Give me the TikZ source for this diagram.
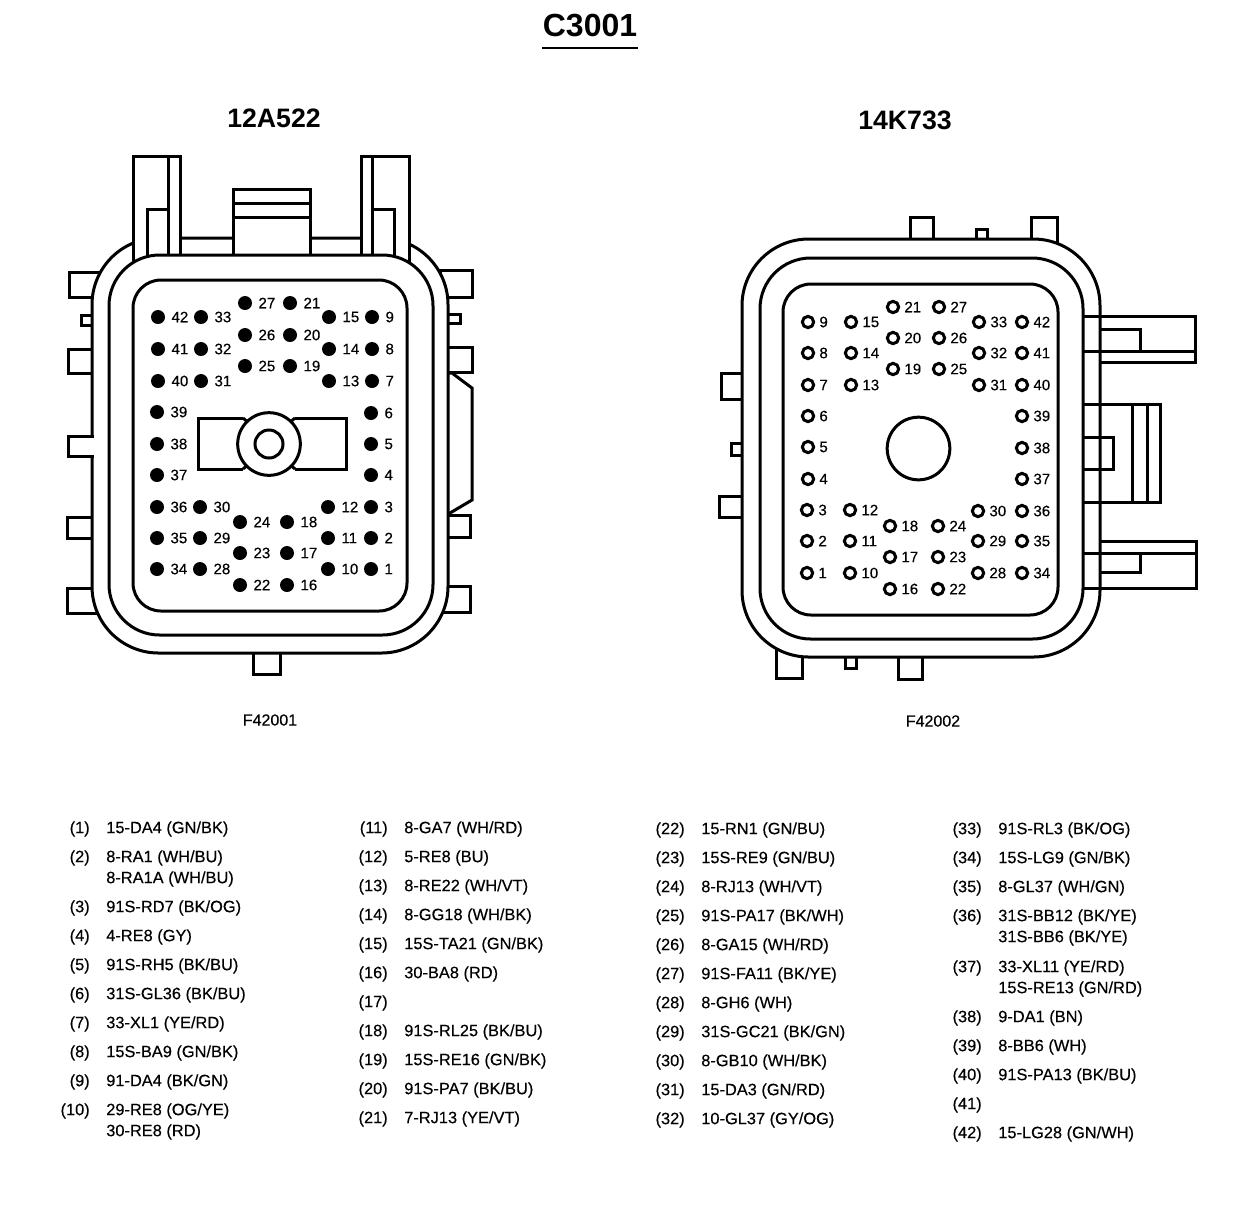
\documentclass[tikz,border=0pt]{standalone}
\usepackage{fontspec}
\setmainfont{Liberation Sans}
\newfontfamily\scanfont{Liberation Sans}[FakeBold=0.3]
\usetikzlibrary{positioning}
\tikzset{wall/.style={draw, line width=2.25pt, line join=miter}}
\tikzset{outerwall/.style={wall, fill=white, rounded corners=50pt}}
\tikzset{midwall/.style={wall, fill=white, rounded corners=38pt}}
\tikzset{innerwall/.style={wall, fill=white, rounded corners=21pt}}
\tikzset{pinfull/.style={circle, fill=black, inner sep=0pt, minimum size=10.5pt}}
\tikzset{pinopen/.style={circle, draw, line width=2.25pt, fill=white, inner sep=0pt, minimum size=8.5pt}}
\tikzset{pinlab/.style={inner sep=0pt, font=\fontsize{11.3}{13}\scanfont}}
\tikzset{wirenum/.style={anchor=north east, inner sep=0pt, font=\fontsize{12.3}{15.75}\scanfont}}
\tikzset{wiretxt/.style={anchor=north west, inner sep=0pt, align=left, font=\fontsize{12.3}{15.75}\scanfont}}
\tikzset{heading/.style={inner sep=0pt, font=\fontsize{20}{24}\selectfont\bfseries}}
\tikzset{partno/.style={inner sep=0pt, font=\fontsize{12}{14}\scanfont}}

\begin{document}
\begin{tikzpicture}[x=0.75pt, y=-0.75pt]
	\fill[white] (0,0) rectangle (1248,1208);
	\node[heading, font=\fontsize{24}{28}\selectfont\bfseries] (title) at (590,26) {C3001};
	\draw[line width=1.5pt] (542,47.5) -- (638,47.5);
	\node[heading] (leftname) at (274,118) {12A522};
	\node[heading] (rightname) at (905,120) {14K733};
	\node[partno] (leftpart) at (270,720) {F42001};
	\node[partno] (rightpart) at (933,721) {F42002};

	% left connector
	\foreach \xa/\ya/\xb/\yb in {69/272/110/297, 81/315/100/325, 68/349/100/373, 67/517/100/538, 67/588/110/613,
		440/270/472/297, 440/314/460/323, 440/347/472/372, 440/515/470/537, 440/586/470/612, 253/640/280/674}
		\draw[wall, fill=white] (\xa,\ya) rectangle (\xb,\yb);
	\draw[wall, fill=white] (440,373) -- (452,373) -- (472,388) -- (472,500) -- (450,513) -- (440,513);
	\draw[outerwall] (92,238) rectangle (448,653);
	\draw[wall, fill=white] (94,436) -- (68,436) -- (68,456) -- (94,456);
	\draw[wall, fill=white] (133,265) -- (133,156) -- (180,156) -- (180,265);
	\draw[wall] (168,156) -- (168,265);
	\draw[wall] (147,265) -- (147,209) -- (168,209);
	\draw[wall, fill=white] (361,265) -- (361,156) -- (409,156) -- (409,265);
	\draw[wall] (372,156) -- (372,265);
	\draw[wall] (372,209) -- (394,209) -- (394,265);
	\draw[wall, fill=white] (233,260) -- (233,189) -- (310,189) -- (310,260);
	\draw[wall] (233,203) -- (310,203);
	\draw[wall] (233,217) -- (310,217);
	\draw[midwall] (109,255) rectangle (433,635);
	\draw[innerwall] (133,280) rectangle (407,611);
	\draw[wall] (243,418) -- (198,418) -- (198,469) -- (243,469);
	\draw[wall] (295,418) -- (346,418) -- (346,469) -- (295,469);
	\draw[wall] (243,418) -- (250,424);
	\draw[wall] (243,469) -- (250,463);
	\draw[wall] (295,418) -- (288,424);
	\draw[wall] (295,469) -- (288,463);
	\node[circle, draw, line width=2.25pt, fill=white, inner sep=0pt, minimum size=47pt] (leftshell) at (269,444) {};
	\node[circle, draw, line width=2.25pt, fill=white, inner sep=0pt, minimum size=21pt] (lefthole) at (269,444) {};
	\foreach \n/\x/\y in {1/371/569, 2/371/538, 3/371/507, 4/371/475, 5/371/444, 6/371/413, 7/372/381, 8/372/349, 9/372/317,
		10/328/569, 11/328/538, 12/328/507, 13/329/381, 14/329/349, 15/329/317,
		16/287/585, 17/287/553, 18/287/522, 19/290/366, 20/290/335, 21/290/303,
		22/240/585, 23/240/553, 24/240/522, 25/245/366, 26/245/335, 27/245/303,
		28/200/569, 29/200/538, 30/200/507, 31/201/381, 32/201/349, 33/201/317,
		34/157/569, 35/157/538, 36/157/507, 37/157/475, 38/157/444, 39/157/412, 40/158/381, 41/158/349, 42/158/317} {
		\node[pinfull] (a\n) at (\x,\y) {};
		\node[pinlab, right=4.5pt of a\n] (atext\n) {\n};
	}

	% right connector
	\foreach \xa/\ya/\xb/\yb in {910/217/933/250, 976/229/987/250, 1031/217/1057/260, 721/373/750/399, 731/443/750/455, 719/496/750/517,
		776/640/802/678, 845/645/856/668, 898/645/922/679}
		\draw[wall, fill=white] (\xa,\ya) rectangle (\xb,\yb);
	\draw[outerwall] (742,239) rectangle (1100,657);
	% side bars
	\draw[wall] (1083,316) -- (1195,316) -- (1195,362) -- (1100,362);
	\draw[wall] (1083,351) -- (1195,351);
	\draw[wall] (1100,329) -- (1140,329) -- (1140,351);
	\draw[wall] (1083,404) -- (1160,404) -- (1160,502) -- (1083,502);
	\draw[wall] (1132,404) -- (1132,502);
	\draw[wall] (1147,404) -- (1147,502);
	\draw[wall] (1083,437) -- (1113,437) -- (1113,469) -- (1083,469);
	\draw[wall] (1100,541) -- (1196,541) -- (1196,588) -- (1083,588);
	\draw[wall] (1083,553) -- (1196,553);
	\draw[wall] (1100,572) -- (1140,572) -- (1140,553);
	\draw[midwall] (760,258) rectangle (1083,639);
	\draw[innerwall] (783,284) rectangle (1058,615);
	\node[circle, draw, line width=2.25pt, fill=white, inner sep=0pt, minimum size=47pt] (righthole) at (918.5,448.5) {};
	\foreach \n/\x/\y in {1/807/573, 2/807/541, 3/807/510, 4/808/479, 5/808/447, 6/808/416, 7/808/385, 8/808/353, 9/808/322,
		10/850/573, 11/850/541, 12/850/510, 13/851/385, 14/851/353, 15/851/322,
		16/890/589, 17/890/557, 18/890/526, 19/893/369, 20/893/338, 21/893/307,
		22/938/589, 23/938/557, 24/938/526, 25/939/369, 26/939/338, 27/939/307,
		28/978/573, 29/978/541, 30/978/511, 31/979/385, 32/979/353, 33/979/322,
		34/1022/573, 35/1022/541, 36/1022/511, 37/1022/479, 38/1022/448, 39/1022/416, 40/1022/385, 41/1022/353, 42/1022/322} {
		\node[pinopen] (b\n) at (\x,\y) {};
		\node[pinlab, right=3pt of b\n] (btext\n) {\n};
	}

	% wire table
	\foreach \n/\y/\w in {1/821/{15-DA4 (GN/BK)}, 2/850/{8-RA1 (WH/BU)\\8-RA1A (WH/BU)}, 3/900/{91S-RD7 (BK/OG)}, 4/929/{4-RE8 (GY)},
		5/958/{91S-RH5 (BK/BU)}, 6/987/{31S-GL36 (BK/BU)}, 7/1016/{33-XL1 (YE/RD)}, 8/1045/{15S-BA9 (GN/BK)},
		9/1074/{91-DA4 (BK/GN)}, 10/1103/{29-RE8 (OG/YE)\\30-RE8 (RD)}} {
		\node[wirenum] (num\n) at (90,\y) {(\n)};
		\node[wiretxt] (wire\n) at (106,\y) {\w};
	}
	\foreach \n/\y/\w in {11/821/{8-GA7 (WH/RD)}, 12/850/{5-RE8 (BU)}, 13/879/{8-RE22 (WH/VT)}, 14/908/{8-GG18 (WH/BK)},
		15/937/{15S-TA21 (GN/BK)}, 16/966/{30-BA8 (RD)}, 17/995/{}, 18/1024/{91S-RL25 (BK/BU)},
		19/1053/{15S-RE16 (GN/BK)}, 20/1082/{91S-PA7 (BK/BU)}, 21/1111/{7-RJ13 (YE/VT)}} {
		\node[wirenum] (num\n) at (388,\y) {(\n)};
		\node[wiretxt] (wire\n) at (404,\y) {\w};
	}
	\foreach \n/\y/\w in {22/822/{15-RN1 (GN/BU)}, 23/851/{15S-RE9 (GN/BU)}, 24/880/{8-RJ13 (WH/VT)}, 25/909/{91S-PA17 (BK/WH)},
		26/938/{8-GA15 (WH/RD)}, 27/967/{91S-FA11 (BK/YE)}, 28/996/{8-GH6 (WH)}, 29/1025/{31S-GC21 (BK/GN)},
		30/1054/{8-GB10 (WH/BK)}, 31/1083/{15-DA3 (GN/RD)}, 32/1112/{10-GL37 (GY/OG)}} {
		\node[wirenum] (num\n) at (685,\y) {(\n)};
		\node[wiretxt] (wire\n) at (701,\y) {\w};
	}
	\foreach \n/\y/\w in {33/822/{91S-RL3 (BK/OG)}, 34/851/{15S-LG9 (GN/BK)}, 35/880/{8-GL37 (WH/GN)}, 36/909/{31S-BB12 (BK/YE)\\31S-BB6 (BK/YE)},
		37/960/{33-XL11 (YE/RD)\\15S-RE13 (GN/RD)}, 38/1010/{9-DA1 (BN)}, 39/1039/{8-BB6 (WH)}, 40/1068/{91S-PA13 (BK/BU)},
		41/1097/{}, 42/1126/{15-LG28 (GN/WH)}} {
		\node[wirenum] (num\n) at (982,\y) {(\n)};
		\node[wiretxt] (wire\n) at (998,\y) {\w};
	}
\end{tikzpicture}
\end{document}
